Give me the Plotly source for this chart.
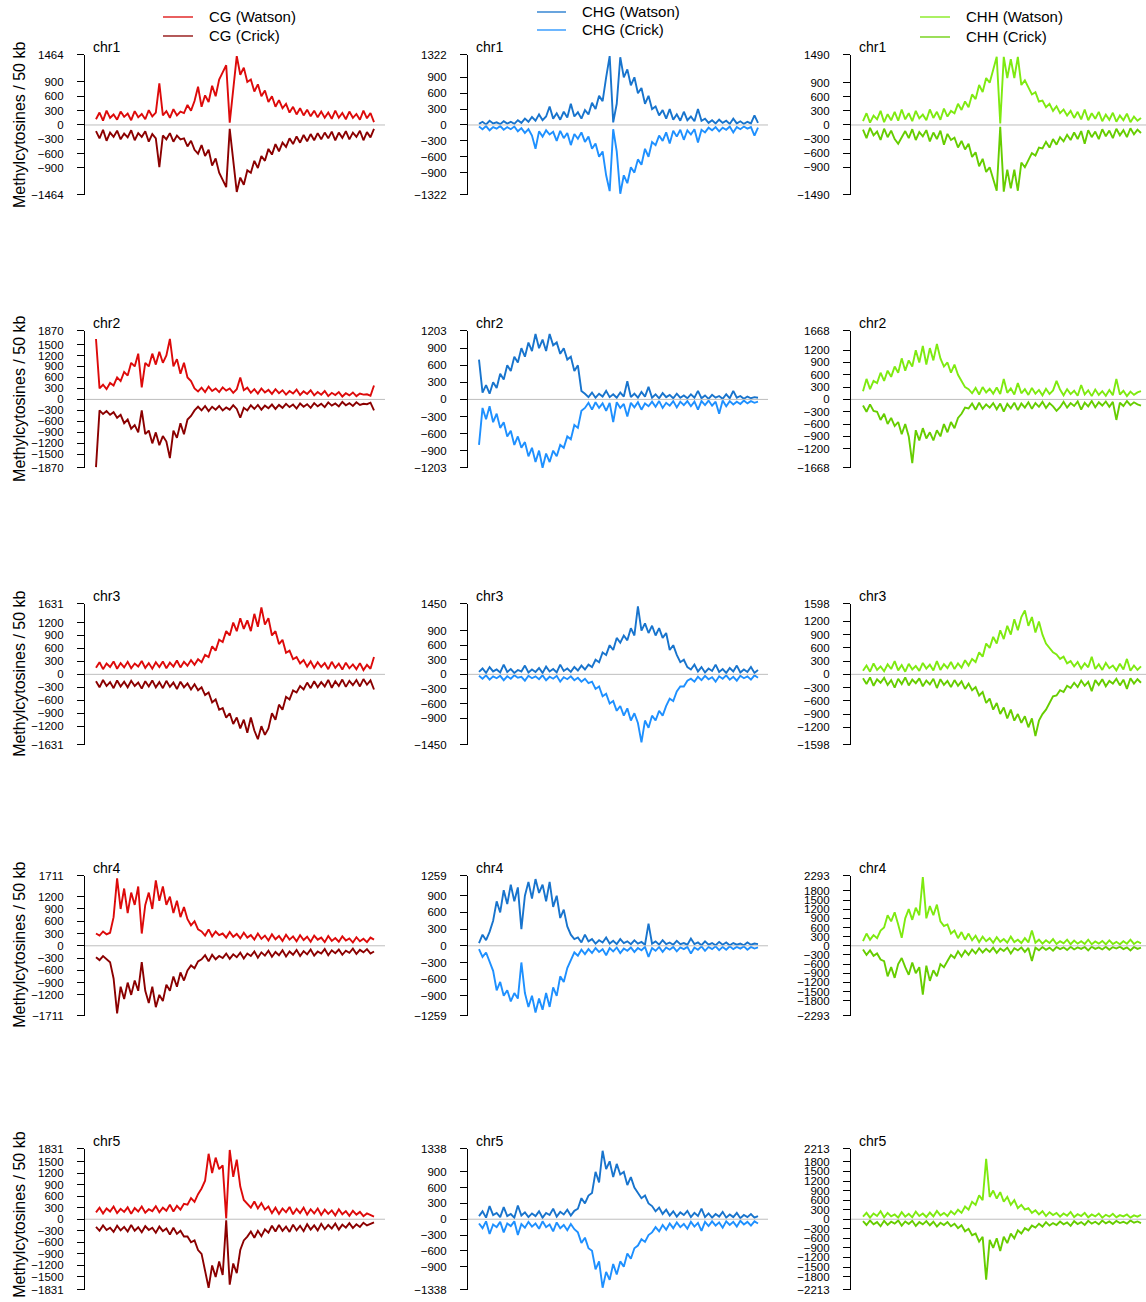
import numpy as np
import plotly.graph_objects as go

# ---------------- data ----------------
chromosomes = ["chr1", "chr2", "chr3", "chr4", "chr5"]
chrom_mb = [30.43, 19.70, 23.46, 18.59, 26.98]

cg_max = [1464, 1870, 1631, 1711, 1831]
chg_max = [1322, 1203, 1450, 1259, 1338]
chh_max = [1490, 1668, 1598, 2293, 2213]

# CG
cg_watson_chr1 = [120, 260, 90, 300, 150, 220, 110, 280, 170, 240, 100, 290, 160, 230, 120, 310, 180, 260, 870, 200, 290, 150, 330, 200, 280, 250, 420, 300, 500, 800, 380, 620, 480, 820, 600, 950, 1100, 1250, 50, 700, 1440, 1050, 1200, 900, 950, 700, 850, 600, 720, 480, 600, 380, 520, 350, 440, 260, 380, 220, 350, 200, 320, 180, 300, 160, 280, 150, 260, 130, 300, 150, 250, 120, 280, 150, 230, 110, 300, 140, 250, 60]
cg_crick_chr1 = [-130, -280, -100, -330, -160, -250, -120, -300, -180, -260, -110, -320, -170, -250, -130, -350, -190, -280, -880, -220, -300, -170, -350, -220, -300, -280, -450, -330, -520, -600, -420, -650, -520, -850, -700, -1000, -1150, -1300, -80, -800, -1400, -1100, -1250, -950, -1000, -750, -900, -650, -750, -500, -620, -400, -550, -370, -460, -280, -400, -240, -370, -210, -340, -190, -320, -170, -300, -160, -280, -140, -320, -160, -270, -130, -300, -160, -250, -120, -320, -150, -260, -80]
cg_watson_chr2 = [1650, 300, 400, 280, 450, 380, 600, 500, 750, 650, 1000, 900, 1250, 330, 1000, 900, 1250, 950, 1300, 1000, 1200, 1650, 900, 1100, 700, 1000, 600, 500, 300, 220, 320, 200, 350, 230, 300, 200, 330, 240, 300, 180, 280, 600, 250, 320, 180, 280, 160, 300, 190, 260, 150, 280, 170, 250, 130, 230, 160, 270, 120, 220, 150, 250, 110, 200, 130, 230, 90, 180, 120, 200, 80, 170, 110, 190, 90, 160, 130, 140, 100, 380]
cg_crick_chr2 = [-1850, -300, -400, -320, -420, -350, -500, -420, -650, -550, -800, -700, -900, -300, -950, -850, -1200, -900, -1250, -1000, -1150, -1600, -850, -1050, -650, -950, -550, -450, -300, -200, -300, -180, -320, -200, -280, -180, -300, -220, -280, -160, -260, -500, -230, -300, -160, -260, -150, -280, -170, -240, -140, -260, -150, -230, -120, -210, -140, -250, -110, -200, -130, -230, -100, -190, -120, -210, -80, -170, -110, -190, -70, -160, -100, -180, -80, -150, -120, -130, -90, -300]
cg_watson_chr3 = [150, 280, 120, 250, 170, 300, 130, 260, 160, 290, 140, 250, 180, 310, 150, 260, 130, 280, 170, 300, 140, 270, 180, 320, 160, 290, 200, 330, 220, 350, 280, 450, 400, 650, 550, 800, 750, 1000, 900, 1200, 1000, 1300, 1050, 1250, 1000, 1400, 1100, 1550, 1150, 1300, 900, 1000, 700, 800, 500, 550, 350, 400, 250, 330, 180, 300, 150, 280, 170, 260, 120, 290, 150, 250, 110, 270, 140, 230, 120, 260, 100, 220, 130, 400]
cg_crick_chr3 = [-160, -300, -130, -270, -180, -320, -140, -280, -170, -300, -150, -270, -190, -330, -160, -280, -140, -300, -180, -320, -150, -290, -190, -340, -170, -300, -210, -350, -230, -370, -300, -480, -420, -650, -580, -820, -780, -1000, -900, -1150, -1000, -1250, -1050, -1350, -1000, -1300, -1500, -1200, -1400, -1250, -900, -1050, -700, -820, -520, -580, -370, -420, -270, -350, -190, -320, -160, -300, -180, -280, -130, -310, -160, -270, -120, -290, -150, -250, -130, -280, -110, -240, -140, -350]
cg_watson_chr4 = [300, 250, 350, 280, 320, 700, 1650, 900, 1400, 800, 1300, 1000, 1450, 300, 1000, 1300, 900, 1600, 1100, 1450, 1000, 1200, 800, 1100, 700, 950, 650, 500, 600, 400, 350, 250, 400, 230, 350, 260, 300, 200, 340, 220, 290, 180, 320, 200, 260, 150, 300, 170, 250, 130, 280, 160, 240, 120, 270, 150, 230, 110, 260, 140, 220, 100, 250, 150, 200, 90, 240, 120, 190, 100, 230, 130, 180, 80, 210, 110, 170, 90, 200, 150]
cg_crick_chr4 = [-280, -350, -250, -330, -400, -800, -1650, -1000, -1300, -900, -1200, -850, -1100, -400, -1100, -1400, -1000, -1500, -1200, -1350, -950, -1100, -750, -1000, -650, -850, -600, -480, -550, -380, -330, -230, -380, -220, -330, -250, -300, -190, -320, -210, -280, -170, -310, -190, -250, -140, -290, -160, -240, -120, -270, -150, -230, -110, -260, -140, -220, -100, -250, -130, -210, -90, -240, -140, -190, -80, -230, -110, -180, -90, -220, -120, -170, -70, -200, -100, -160, -80, -190, -140]
cg_watson_chr5 = [180, 300, 150, 280, 200, 330, 160, 270, 190, 310, 140, 290, 200, 330, 170, 260, 210, 340, 180, 300, 220, 380, 200, 350, 250, 400, 380, 550, 450, 650, 800, 1000, 1700, 1200, 1600, 1300, 1400, 20, 1800, 1100, 1550, 850, 500, 400, 300, 460, 280, 420, 250, 330, 160, 300, 140, 280, 180, 320, 130, 270, 160, 300, 120, 260, 150, 280, 110, 250, 140, 230, 100, 260, 130, 210, 90, 220, 120, 190, 80, 150, 100, 70]
cg_crick_chr5 = [-200, -300, -160, -280, -220, -330, -170, -290, -200, -320, -150, -300, -210, -340, -180, -280, -220, -350, -190, -310, -240, -400, -220, -380, -300, -450, -450, -600, -550, -800, -900, -1300, -1780, -1200, -1500, -1100, -1450, -30, -1700, -1150, -1400, -800, -550, -450, -320, -480, -300, -440, -260, -350, -170, -320, -150, -300, -190, -330, -140, -290, -170, -310, -130, -270, -160, -290, -120, -260, -150, -240, -110, -270, -140, -220, -100, -230, -130, -200, -90, -160, -110, -80]

# CHG
chg_watson_chr1 = [20, 60, 10, 80, 30, 50, 15, 70, 25, 60, 20, 90, 40, 120, 60, 150, 80, 200, 90, 160, 350, 120, 220, 100, 250, 140, 400, 160, 240, 120, 280, 200, 420, 300, 550, 450, 900, 1300, 50, 400, 1280, 900, 1050, 750, 900, 600, 700, 400, 550, 300, 350, 180, 280, 120, 300, 100, 200, 80, 250, 90, 160, 70, 300, 80, 120, 40, 90, 30, 100, 40, 80, 20, 120, 30, 70, 20, 60, 30, 180, 40]
chg_crick_chr1 = [-30, -80, -20, -100, -40, -70, -20, -90, -40, -80, -30, -120, -60, -150, -80, -200, -450, -120, -220, -100, -180, -130, -300, -110, -250, -150, -380, -170, -260, -140, -320, -220, -450, -350, -600, -500, -950, -1250, -80, -500, -1300, -950, -1100, -800, -900, -650, -750, -450, -600, -320, -380, -200, -300, -140, -350, -110, -220, -90, -280, -100, -180, -80, -330, -90, -140, -50, -100, -40, -120, -50, -90, -30, -140, -40, -80, -30, -70, -40, -200, -50]
chg_watson_chr2 = [700, 120, 250, 100, 300, 200, 450, 350, 600, 500, 750, 650, 900, 750, 1000, 850, 1150, 900, 1050, 850, 1150, 950, 1000, 800, 900, 700, 750, 500, 600, 150, 100, 40, 120, 30, 100, 50, 150, 40, 90, 30, 120, 50, 320, 40, 100, 30, 130, 50, 220, 30, 90, 20, 110, 40, 80, 20, 100, 30, 70, 20, 90, 30, 150, 20, 70, 10, 80, 30, 60, 10, 90, 20, 150, 30, 60, 10, 50, 20, 40, 30]
chg_crick_chr2 = [-800, -150, -350, -120, -400, -250, -500, -400, -650, -550, -800, -650, -850, -750, -1000, -850, -1100, -900, -1200, -950, -1100, -900, -1000, -800, -850, -650, -700, -450, -500, -200, -150, -60, -180, -50, -150, -70, -200, -60, -400, -50, -150, -80, -300, -60, -140, -50, -180, -70, -120, -40, -130, -30, -150, -60, -110, -30, -140, -40, -100, -30, -120, -40, -180, -30, -100, -20, -110, -40, -250, -20, -120, -30, -90, -40, -80, -20, -70, -30, -60, -40]
chg_watson_chr3 = [50, 120, 30, 150, 60, 100, 40, 200, 50, 110, 30, 90, 60, 180, 40, 100, 50, 130, 30, 160, 60, 110, 40, 200, 70, 120, 50, 150, 80, 180, 100, 200, 150, 300, 250, 450, 400, 600, 500, 750, 650, 800, 700, 950, 800, 1400, 900, 1050, 850, 1000, 800, 950, 750, 850, 500, 600, 400, 250, 300, 150, 100, 200, 60, 150, 40, 120, 70, 200, 50, 110, 30, 130, 60, 180, 40, 100, 50, 150, 30, 90]
chg_crick_chr3 = [-30, -90, -20, -110, -40, -80, -30, -120, -40, -90, -20, -70, -50, -130, -30, -80, -40, -100, -20, -120, -50, -90, -30, -150, -60, -100, -40, -120, -70, -150, -90, -180, -150, -300, -250, -450, -400, -600, -550, -750, -650, -850, -700, -950, -800, -1000, -1400, -950, -1100, -850, -950, -750, -850, -650, -500, -550, -350, -250, -250, -130, -90, -150, -50, -120, -30, -100, -60, -150, -40, -90, -20, -110, -50, -130, -30, -80, -40, -110, -20, -70]
chg_watson_chr4 = [50, 200, 100, 250, 450, 800, 600, 1000, 750, 1100, 800, 1050, 300, 900, 1150, 850, 1200, 950, 1100, 800, 1150, 700, 900, 500, 650, 350, 200, 120, 150, 60, 200, 80, 120, 40, 100, 60, 150, 40, 90, 30, 120, 50, 80, 30, 100, 40, 70, 20, 400, 40, 80, 20, 100, 30, 60, 20, 90, 30, 50, 20, 130, 30, 60, 10, 80, 20, 50, 10, 70, 20, 60, 10, 50, 20, 40, 10, 60, 20, 40, 30]
chg_crick_chr4 = [-60, -200, -120, -300, -450, -800, -650, -900, -800, -1000, -850, -950, -300, -850, -1100, -900, -1200, -950, -1150, -850, -1100, -750, -900, -550, -650, -400, -250, -120, -180, -70, -150, -60, -130, -40, -110, -60, -170, -40, -100, -30, -130, -50, -90, -30, -110, -40, -80, -20, -200, -40, -90, -20, -110, -30, -70, -20, -100, -30, -60, -20, -140, -30, -70, -10, -90, -20, -60, -10, -80, -20, -70, -10, -60, -20, -50, -10, -70, -20, -50, -30]
chg_watson_chr5 = [60, 150, 30, 250, 80, 120, 40, 230, 60, 100, 30, 260, 70, 130, 40, 110, 60, 150, 30, 120, 80, 200, 50, 140, 90, 180, 70, 160, 200, 400, 300, 450, 500, 900, 700, 1300, 950, 1100, 800, 1050, 850, 900, 650, 800, 600, 500, 400, 450, 300, 250, 150, 220, 100, 180, 70, 150, 50, 130, 80, 160, 40, 120, 60, 200, 40, 110, 30, 100, 50, 140, 30, 90, 40, 120, 20, 80, 40, 100, 30, 60]
chg_crick_chr5 = [-80, -170, -40, -280, -100, -150, -50, -250, -80, -130, -40, -300, -90, -160, -50, -140, -80, -180, -40, -150, -100, -230, -60, -170, -110, -210, -90, -190, -250, -450, -350, -550, -600, -950, -800, -1300, -1000, -1150, -850, -1050, -800, -900, -650, -750, -550, -500, -380, -430, -300, -250, -150, -230, -110, -200, -80, -170, -60, -150, -90, -180, -50, -140, -70, -220, -50, -130, -40, -120, -60, -160, -40, -110, -50, -140, -30, -100, -50, -120, -40, -80]

# CHH
chh_watson_chr1 = [80, 250, 50, 200, 120, 300, 60, 230, 100, 280, 90, 330, 120, 250, 80, 300, 140, 220, 100, 330, 150, 280, 110, 350, 180, 300, 250, 450, 320, 500, 380, 650, 550, 850, 700, 1000, 900, 1200, 1450, 30, 1450, 1000, 1400, 1000, 1450, 850, 950, 800, 650, 700, 500, 520, 380, 450, 300, 400, 250, 330, 200, 300, 150, 280, 120, 330, 100, 250, 130, 280, 80, 220, 110, 260, 70, 200, 100, 240, 60, 180, 90, 150]
chh_crick_chr1 = [-100, -280, -60, -220, -140, -320, -80, -260, -120, -300, -400, -250, -130, -280, -90, -320, -150, -240, -110, -350, -160, -300, -120, -420, -190, -320, -270, -480, -340, -520, -400, -680, -580, -880, -720, -1000, -900, -1150, -1400, -40, -1420, -950, -1350, -950, -1400, -800, -900, -750, -600, -650, -480, -500, -360, -480, -300, -420, -260, -350, -210, -320, -160, -300, -130, -400, -110, -260, -140, -300, -90, -240, -120, -280, -80, -220, -110, -260, -70, -200, -100, -170]
chh_watson_chr2 = [200, 500, 250, 450, 400, 650, 450, 700, 550, 800, 650, 1000, 700, 950, 800, 1200, 900, 1300, 850, 1250, 950, 1350, 1000, 800, 900, 650, 850, 600, 450, 300, 250, 150, 280, 120, 300, 170, 260, 140, 290, 130, 500, 160, 270, 120, 400, 150, 250, 110, 280, 140, 230, 100, 260, 130, 220, 450, 240, 100, 250, 130, 210, 90, 350, 120, 220, 80, 240, 110, 200, 90, 230, 100, 500, 120, 210, 80, 190, 110, 170, 200]
chh_crick_chr2 = [-150, -300, -120, -280, -300, -500, -350, -600, -450, -650, -550, -850, -600, -900, -1550, -750, -1000, -700, -950, -800, -1000, -750, -900, -600, -800, -550, -700, -450, -350, -200, -220, -100, -250, -80, -230, -120, -200, -90, -240, -100, -300, -110, -220, -80, -260, -100, -200, -70, -230, -90, -180, -60, -210, -90, -170, -280, -190, -60, -200, -90, -160, -50, -250, -80, -170, -40, -190, -70, -150, -50, -180, -60, -500, -80, -160, -40, -140, -70, -120, -150]
chh_watson_chr3 = [80, 200, 60, 250, 100, 180, 70, 230, 120, 300, 90, 210, 60, 240, 110, 190, 80, 260, 130, 220, 90, 300, 100, 230, 140, 280, 120, 250, 150, 320, 200, 350, 280, 500, 400, 700, 600, 850, 700, 1000, 800, 1100, 900, 1250, 1000, 1300, 1450, 1100, 1300, 950, 1200, 900, 700, 600, 500, 450, 350, 400, 250, 300, 180, 280, 130, 250, 160, 400, 120, 230, 100, 260, 140, 200, 90, 240, 110, 350, 80, 200, 100, 180]
chh_crick_chr3 = [-90, -220, -70, -260, -110, -190, -80, -240, -130, -300, -100, -220, -70, -250, -120, -200, -90, -270, -140, -230, -100, -310, -110, -240, -150, -290, -130, -260, -160, -330, -210, -360, -290, -480, -400, -650, -550, -800, -650, -900, -750, -1000, -800, -1050, -900, -1100, -950, -1200, -1000, -1400, -1050, -900, -800, -650, -500, -480, -360, -400, -260, -310, -190, -290, -140, -260, -170, -380, -130, -240, -110, -270, -150, -210, -100, -250, -120, -330, -90, -210, -110, -190]
chh_watson_chr4 = [150, 400, 200, 350, 250, 500, 600, 1000, 800, 1100, 700, 260, 900, 1200, 850, 1250, 1000, 2250, 900, 1300, 1000, 1350, 800, 650, 700, 400, 500, 250, 450, 200, 400, 180, 330, 120, 300, 150, 250, 100, 280, 130, 220, 100, 300, 120, 200, 90, 250, 110, 500, 100, 200, 70, 180, 90, 220, 60, 150, 80, 200, 50, 170, 70, 150, 60, 200, 50, 140, 70, 160, 50, 180, 60, 130, 50, 150, 70, 200, 60, 140, 80]
chh_crick_chr4 = [-120, -300, -150, -330, -250, -450, -500, -1000, -700, -1050, -600, -400, -700, -950, -550, -900, -700, -1600, -650, -1150, -800, -1000, -600, -700, -500, -300, -400, -180, -350, -160, -300, -120, -250, -80, -220, -100, -200, -60, -230, -90, -170, -60, -250, -80, -150, -50, -200, -70, -500, -60, -150, -40, -130, -60, -160, -40, -110, -50, -140, -30, -120, -50, -100, -40, -150, -30, -100, -50, -120, -30, -130, -40, -90, -30, -110, -50, -150, -40, -100, -60]
chh_watson_chr5 = [80, 200, 50, 180, 100, 250, 60, 200, 90, 150, 50, 220, 80, 170, 60, 240, 100, 180, 70, 210, 90, 260, 120, 200, 100, 250, 150, 300, 200, 400, 300, 550, 450, 750, 600, 1900, 700, 900, 650, 850, 550, 700, 450, 600, 350, 450, 300, 350, 200, 280, 150, 250, 100, 220, 130, 200, 80, 180, 110, 230, 70, 160, 100, 200, 60, 150, 90, 180, 50, 140, 80, 170, 60, 130, 90, 150, 50, 120, 80, 140]
chh_crick_chr5 = [-60, -180, -40, -160, -90, -220, -50, -180, -80, -140, -40, -200, -70, -150, -50, -210, -90, -160, -60, -190, -80, -230, -110, -180, -90, -220, -140, -280, -190, -380, -300, -500, -450, -700, -550, -1900, -650, -900, -600, -1000, -550, -750, -450, -600, -350, -450, -280, -350, -200, -260, -140, -230, -90, -200, -120, -180, -70, -160, -100, -210, -60, -150, -90, -180, -50, -140, -80, -160, -40, -130, -70, -150, -50, -120, -80, -140, -40, -110, -70, -120]

contexts = ["CG", "CHG", "CHH"]
series_labels = [("CG (Watson)", "CG (Crick)"), ("CHG (Watson)", "CHG (Crick)"), ("CHH (Watson)", "CHH (Crick)")]

panels = {
    "CG": ([cg_watson_chr1, cg_watson_chr2, cg_watson_chr3, cg_watson_chr4, cg_watson_chr5],
           [cg_crick_chr1, cg_crick_chr2, cg_crick_chr3, cg_crick_chr4, cg_crick_chr5], cg_max),
    "CHG": ([chg_watson_chr1, chg_watson_chr2, chg_watson_chr3, chg_watson_chr4, chg_watson_chr5],
            [chg_crick_chr1, chg_crick_chr2, chg_crick_chr3, chg_crick_chr4, chg_crick_chr5], chg_max),
    "CHH": ([chh_watson_chr1, chh_watson_chr2, chh_watson_chr3, chh_watson_chr4, chh_watson_chr5],
            [chh_crick_chr1, chh_crick_chr2, chh_crick_chr3, chh_crick_chr4, chh_crick_chr5], chh_max),
}

# ---------------- styles / layout ----------------
W, H = 1146, 1302
colors = {"CG": ("#DD0A0A", "#8B0000"), "CHG": ("#1874CD", "#1E90FF"), "CHH": ("#7EEA10", "#66CD00")}
col_axis_px = [85, 468, 851]
col_right_px = [385, 768, 1146]
col_data_px = [(96, 374), (479, 758), (863, 1141)]
row_px = [(54, 194), (330, 467), (603, 744), (875, 1015), (1148, 1289)]
title_center_px = [124, 398, 673, 944, 1214]
legend_px = [  # line x0, x1, text x, y watson, y crick
    (163, 193, 207, 16, 35),
    (537, 566, 580, 11, 29),
    (920, 950, 964, 16, 36),
]
FONT = "Liberation Sans, Arial, Helvetica, sans-serif"

def px_x(p):
    return p / W

def px_y(p):
    q = (p - 5) / 0.991
    return 1 - q / H

def fmt(v):
    return ("\u2212" + str(-v)) if v < 0 else str(v)

fig = go.Figure()
layout = dict(width=W, height=H, margin=dict(l=0, r=0, t=0, b=0),
              paper_bgcolor="white", plot_bgcolor="white", showlegend=False,
              font=dict(family=FONT, color="black"))
shapes = []
annotations = []

for c, ctx in enumerate(contexts):
    watson_list, crick_list, maxes = panels[ctx]
    cw, cc = colors[ctx]
    for r in range(5):
        n = r * 3 + c + 1
        xa = "x" if n == 1 else f"x{n}"
        ya = "y" if n == 1 else f"y{n}"
        L = chrom_mb[r]
        d0, d1 = col_data_px[c]
        a0, a1 = col_axis_px[c], col_right_px[c]
        wpx = d1 - d0
        xr = [-(d0 - a0) / wpx * L, L + (a1 - d1) / wpx * L]
        for vals, colr in ((watson_list[r], cw), (crick_list[r], cc)):
            fig.add_trace(go.Scatter(
                x=np.linspace(0, L, len(vals)), y=vals, mode="lines",
                line=dict(color=colr, width=1.9), xaxis=xa, yaxis=ya,
                hoverinfo="skip", showlegend=False))
        m = maxes[r]
        k = (m - 300) // 300
        tv = [-m] + [300 * i for i in range(-k, k + 1)] + [m]
        top, bot = row_px[r]
        layout["xaxis" if n == 1 else f"xaxis{n}"] = dict(
            domain=[px_x(a0), min(1.0, px_x(a1))], range=xr, visible=False,
            anchor=ya, fixedrange=True)
        layout["yaxis" if n == 1 else f"yaxis{n}"] = dict(
            domain=[px_y(bot), px_y(top)], range=[-m, m], anchor=xa,
            tickmode="array", tickvals=tv, ticktext=[fmt(v) for v in tv],
            ticks="outside", ticklen=7, tickwidth=1.2, tickcolor="black",
            showline=True, linecolor="black", linewidth=1.2,
            showgrid=False, zeroline=False, ticklabelstandoff=11,
            tickfont=dict(size=11.5, family=FONT, color="black"))
        # zero reference line
        shapes.append(dict(type="line", xref=f"{xa} domain", yref=ya, x0=0, x1=1,
                           y0=0, y1=0, line=dict(color="#BEBEBE", width=1), layer="above"))
        # chromosome label
        annotations.append(dict(text=chromosomes[r], xref="paper", yref="paper",
                                x=px_x(a0 + 6), y=px_y(top - 8), xanchor="left", yanchor="middle",
                                showarrow=False, font=dict(size=14, family=FONT, color="black")))
        if c == 0:
            annotations.append(dict(text="Methylcytosines / 50 kb", xref="paper", yref="paper",
                                    x=px_x(20), y=px_y(title_center_px[r]), xanchor="center",
                                    yanchor="middle", textangle=-90, showarrow=False,
                                    font=dict(size=16, family=FONT, color="black")))
    # legend keys
    lx0, lx1, tx, yw, yc = legend_px[c]
    for lab, colr, yy in ((series_labels[c][0], cw, yw), (series_labels[c][1], cc, yc)):
        shapes.append(dict(type="line", xref="paper", yref="paper", x0=px_x(lx0), x1=px_x(lx1),
                           y0=px_y(yy), y1=px_y(yy), line=dict(color=colr, width=1.3)))
        annotations.append(dict(text=lab, xref="paper", yref="paper", x=px_x(tx), y=px_y(yy),
                                xanchor="left", yanchor="middle", showarrow=False,
                                font=dict(size=15, family=FONT, color="black")))

layout["shapes"] = shapes
layout["annotations"] = annotations
fig.update_layout(**layout)
fig.write_html("out.html")
